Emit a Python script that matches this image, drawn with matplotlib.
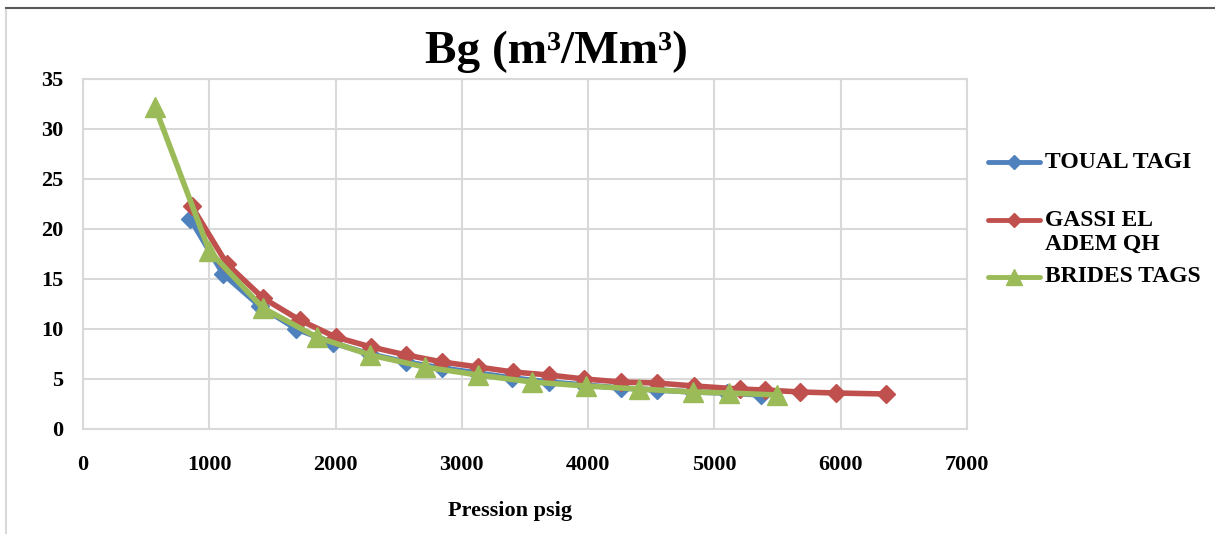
import matplotlib
matplotlib.use('Agg')
import matplotlib.pyplot as plt
from matplotlib.lines import Line2D

# pressure (psig) and Bg (m3/Mm3)
toual_p = [850, 1110, 1400, 1690, 1980, 2270, 2557, 2840, 3120, 3400, 3690, 3970,
           4258, 4545, 4830, 5100, 5370]
toual_bg = [21.0, 15.5, 12.3, 10.0, 8.6, 7.5, 6.7, 6.1, 5.6, 5.1, 4.7, 4.4,
            4.1, 3.9, 3.7, 3.6, 3.4]

gassi_p = [860, 1140, 1425, 1715, 2000, 2280, 2560, 2845, 3130, 3405, 3690, 3970,
           4260, 4545, 4840, 5200, 5400, 5680, 5960, 6360]
gassi_bg = [22.3, 16.5, 13.1, 10.9, 9.2, 8.2, 7.4, 6.7, 6.2, 5.7, 5.4, 5.0,
            4.7, 4.6, 4.3, 4.0, 3.9, 3.7, 3.6, 3.5]

brides_p = [570, 1000, 1425, 1850, 2275, 2705, 3128, 3555, 3980, 4405, 4830, 5115, 5495]
brides_bg = [32.2, 17.8, 12.1, 9.2, 7.4, 6.2, 5.4, 4.7, 4.3, 4.0, 3.7, 3.6, 3.4]

labels = ['TOUAL TAGI', 'GASSI EL\nADEM QH', 'BRIDES TAGS']
colors = ['#4F81BD', '#C0504D', '#9BBB59']
markers = ['D', 'D', '^']
msizes = [9, 9, 14]

x_ticks = [0, 1000, 2000, 3000, 4000, 5000, 6000, 7000]
y_ticks = [0, 5, 10, 15, 20, 25, 30, 35]

plt.rcParams['font.family'] = ['Liberation Serif', 'DejaVu Serif']
plt.rcParams['font.weight'] = 'bold'

W, H = 1215, 534
fig = plt.figure(figsize=(W / 100, H / 100), dpi=100)
ax = fig.add_axes([83 / W, 1 - 429 / H, (967 - 83) / W, (429 - 79) / H])

series = [(toual_p, toual_bg), (gassi_p, gassi_bg), (brides_p, brides_bg)]
for (p, bg), c, m, ms in zip(series, colors, markers, msizes):
    ax.plot(p, bg, color=c, lw=4, marker=m, markersize=ms,
            markeredgecolor=c, solid_capstyle='round', zorder=3)

ax.set_xlim(0, 7000)
ax.set_ylim(0, 35)
ax.set_xticks(x_ticks)
ax.set_yticks(y_ticks)
ax.tick_params(length=0, labelsize=16)
ax.tick_params(axis='y', pad=14)
ax.tick_params(axis='x', pad=19)
for lab in ax.get_xticklabels() + ax.get_yticklabels():
    lab.set_fontweight('bold')
ax.grid(True, color='#D9D9D9', lw=1.5)
ax.set_axisbelow(True)
for s in ax.spines.values():
    s.set_color('#D9D9D9')
    s.set_linewidth(1.5)

fig.text(556 / W, 1 - 52 / H, 'Bg (m³/Mm³)', ha='center', va='center',
         fontsize=34, fontweight='bold')
fig.text(510 / W, 1 - 511 / H, 'Pression psig', ha='center', va='center',
         fontsize=16, fontweight='bold')

# manual legend on the right
leg_y = [162, 220, 277]
for y, lab, c, m, ms in zip(leg_y, labels, colors, markers, msizes):
    fy = 1 - y / H
    fig.add_artist(Line2D([988 / W, 1040 / W], [fy, fy], color=c, lw=3.5,
                          solid_capstyle='round', transform=fig.transFigure))
    fig.add_artist(Line2D([1014 / W], [fy], color=c, marker=m, markersize=ms * 0.8,
                          transform=fig.transFigure))
    fig.text(1045 / W, fy + (10 / H if '\n' in lab else 0), lab, ha='left',
             va='top' if '\n' in lab else 'center',
             fontsize=17, fontweight='bold', linespacing=1.15,
             transform=fig.transFigure)

# outer chart frame
fig.add_artist(Line2D([6 / W, 1], [1 - 8 / H, 1 - 8 / H], color='#595959', lw=1.5,
                      transform=fig.transFigure))
fig.add_artist(Line2D([6 / W, 6 / W], [1 - 10 / H, 0], color='#D9D9D9', lw=1.5,
                      transform=fig.transFigure))

fig.savefig('out.png', dpi=100)
